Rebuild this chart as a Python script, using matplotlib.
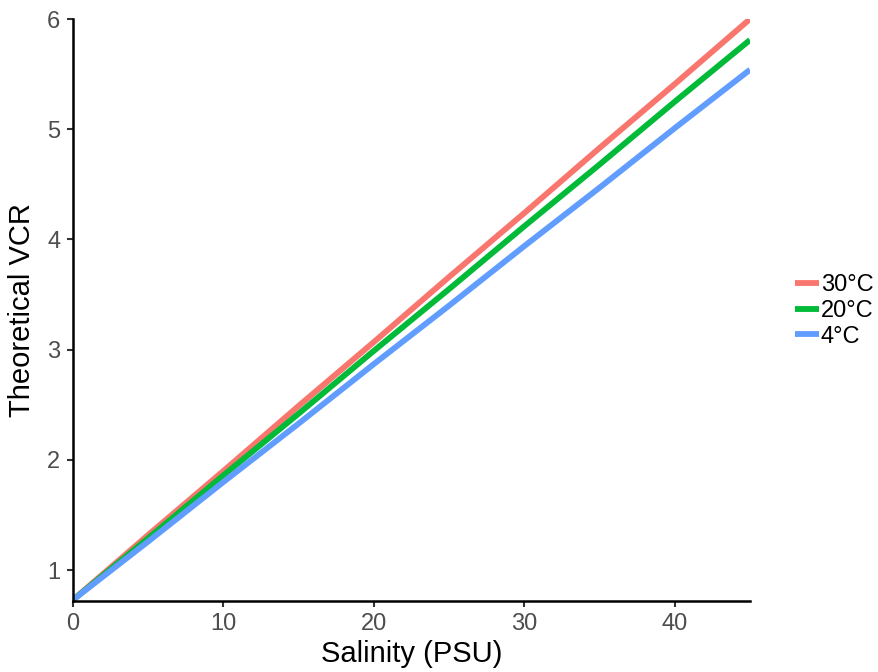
import matplotlib
matplotlib.use("Agg")
import matplotlib.pyplot as plt

plt.rcParams['font.family'] = ['Liberation Sans', 'DejaVu Sans']

# values
salinity = [0, 5, 10, 15, 20, 25, 30, 35, 40, 45]
vcr_30 = [0.73, 1.32, 1.90, 2.49, 3.07, 3.66, 4.24, 4.83, 5.41, 6.00]
vcr_20 = [0.73, 1.29, 1.86, 2.42, 2.99, 3.55, 4.12, 4.68, 5.25, 5.81]
vcr_4 = [0.73, 1.26, 1.80, 2.33, 2.87, 3.40, 3.94, 4.47, 5.01, 5.54]
labels = ['30°C', '20°C', '4°C']
colors = ['#F8766D', '#00BA38', '#619CFF']
xticks = [0, 10, 20, 30, 40]
yticks = [1, 2, 3, 4, 5, 6]

fig = plt.figure(figsize=(8.79, 6.72), dpi=100)
ax = fig.add_axes([73/879, 71/672, (750-73)/879, (601-19)/672])

for ys, lab, c in zip([vcr_30, vcr_20, vcr_4], labels, colors):
    ax.plot(salinity, ys, color=c, lw=4.2, label=lab, solid_capstyle='butt')

ax.set_xlim(0, 45)
ax.set_ylim(0.72, 6.0)
ax.set_xticks(xticks)
ax.set_yticks(yticks)

for s in ['top', 'right']:
    ax.spines[s].set_visible(False)
for s in ['left', 'bottom']:
    ax.spines[s].set_linewidth(1.8)
    ax.spines[s].set_color('black')
ax.tick_params(axis='both', length=4, width=1.5, color='#333333',
               labelsize=17, labelcolor='#4D4D4D', pad=5)

ax.set_xlabel('Salinity (PSU)', fontsize=21, labelpad=3)
ax.set_ylabel('Theoretical VCR', fontsize=21, labelpad=8)

ax.legend(loc='center left', bbox_to_anchor=(795/879, 1 - 311/672),
          bbox_transform=fig.transFigure, frameon=False, fontsize=17,
          handlelength=1.0, handletextpad=0.1, labelspacing=0.15,
          borderpad=0, borderaxespad=0)

fig.savefig('out.png', dpi=100)
